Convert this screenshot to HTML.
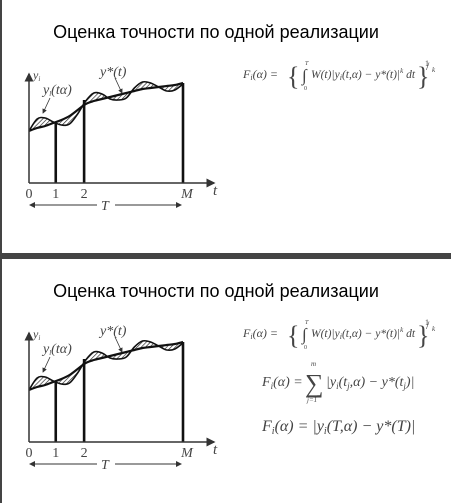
<!DOCTYPE html>
<html><head><meta charset="utf-8"><style>
html,body{margin:0;padding:0;background:#fff;width:451px;height:503px;overflow:hidden}
svg{display:block}
.ttl{font-family:"Liberation Sans",sans-serif;font-size:18px;fill:#000}
.m{font-family:"Liberation Serif",serif;font-style:italic;fill:#444}
.n{font-family:"Liberation Serif",serif;fill:#444}
</style></head><body>
<svg id="root" width="451" height="503" viewBox="0 0 451 503">
<defs>
<pattern id="hatch" patternUnits="userSpaceOnUse" width="3" height="3" patternTransform="rotate(45)">
<rect width="3" height="3" fill="#fff"/><line x1="0" y1="0" x2="0" y2="3" stroke="#222" stroke-width="1.3"/>
</pattern>
<marker id="ah" markerWidth="6" markerHeight="6" refX="5" refY="3" orient="auto"><path d="M0,0 L6,3 L0,6 Z" fill="#333"/></marker>
<g id="f1">
<text class="m" x="243" y="78" font-size="12">F<tspan font-size="8" dy="2">i</tspan><tspan dy="-2">(α) =</tspan></text>
<text class="n" x="287" y="85" font-size="26">{</text>
<text class="n" x="302" y="81" font-size="17">∫</text>
<text class="m" x="305" y="65" font-size="6">T</text><text class="n" x="304" y="90" font-size="6">0</text>
<text class="m" x="311" y="78" font-size="11.5">W(t)|y<tspan font-size="8" dy="2">i</tspan><tspan dy="-2">(t,α) − y*(t)|</tspan><tspan font-size="7" dy="-5">k</tspan><tspan dy="5"> dt</tspan></text>
<text class="n" x="417" y="85" font-size="26">}</text>
<text class="n" x="425" y="66" font-size="8">1</text><text class="n" x="426" y="70" font-size="12">/</text><text class="m" x="432" y="72" font-size="7">k</text>
</g>
</defs>
<rect x="0" y="0" width="2" height="503" fill="#444"/>
<rect x="0" y="253" width="451" height="6" fill="#444"/>

<g>
<text class="ttl" x="216" y="38" text-anchor="middle">Оценка точности по одной реализации</text>
<g id="chart1"></g>
<use href="#f1"/>
</g>

<g>
<text class="ttl" x="216" y="297" text-anchor="middle">Оценка точности по одной реализации</text>
<g id="chart2"></g>
<use href="#f1" y="259"/>
<g>
<text class="m" x="262" y="386" font-size="14">F<tspan font-size="9" dy="3">i</tspan><tspan dy="-3">(α) =</tspan></text>
<text class="n" x="305" y="392" font-size="26">∑</text>
<text class="m" x="311" y="366" font-size="7">m</text><text class="m" x="307" y="402" font-size="7">j=1</text>
<text class="m" x="326" y="386" font-size="14">|y<tspan font-size="9" dy="3">i</tspan><tspan dy="-3">(t</tspan><tspan font-size="9" dy="3">j</tspan><tspan dy="-3">,α) − y*(t</tspan><tspan font-size="9" dy="3">j</tspan><tspan dy="-3">)|</tspan></text>
</g>
<g>
<text class="m" x="262" y="431" font-size="16">F<tspan font-size="10" dy="3">i</tspan><tspan dy="-3">(α) = |y</tspan><tspan font-size="10" dy="3">i</tspan><tspan dy="-3">(T,α) − y*(T)|</tspan></text>
</g>
</g>
</svg>
<script>
const tIndex=[0,1,2,3,4,5,6,7,8,9,10,11,12,13,14,15,16,17,18,19];
const yStar=[52,55,57,60,63,67,73,79,82,84,86,88,90,92,94,95,96,97,98,100];
const yReal=[52,64,65,61,58,59,69,82,90,89,84,83,85,95,101,100,96,92,93,99];
const barT=[3.3,6.8,19];
const barV=[61,83,100];
const tickLabels=["0","1","2","M"];
const tickT=[0,3.3,6.8,19];
const NS="http://www.w3.org/2000/svg";
function mk(tag,attrs,parent){const e=document.createElementNS(NS,tag);for(const k in attrs)e.setAttribute(k,attrs[k]);parent.appendChild(e);return e;}
function smooth(pts){let d="M"+pts[0][0]+","+pts[0][1];for(let i=0;i<pts.length-1;i++){const p0=pts[Math.max(0,i-1)],p1=pts[i],p2=pts[i+1],p3=pts[Math.min(pts.length-1,i+2)];d+=" C"+(p1[0]+(p2[0]-p0[0])/6)+","+(p1[1]+(p2[1]-p0[1])/6)+" "+(p2[0]-(p3[0]-p1[0])/6)+","+(p2[1]-(p3[1]-p1[1])/6)+" "+p2[0]+","+p2[1];}return d;}
function draw(g,oy){
  const x=t=>29+t*154/19, y=v=>oy+183-v;
  const ps=tIndex.map((t,i)=>[x(t),y(yStar[i])]);
  const pr=tIndex.map((t,i)=>[x(t),y(yReal[i])]);
  const rev=ps.slice().reverse();
  const area=mk("path",{d:smooth(pr)+" L"+rev.map(p=>p[0]+","+p[1]).join(" L")+" Z",fill:"url(#hatch)",stroke:"none"},g);
  
  
  const ls=mk("path",{d:smooth(ps),fill:"none",stroke:"#111","stroke-width":2.2},g);
  
  
  const lr=mk("path",{d:smooth(pr),fill:"none",stroke:"#111","stroke-width":1.6},g);
  
  
  barT.forEach((t,i)=>{const b=mk("line",{x1:x(t),x2:x(t),y1:y(0),y2:y(barV[i]),stroke:"#111","stroke-width":2.6},g);
    
    });
  const ya=mk("line",{x1:29,y1:y(0),x2:29,y2:oy+74,stroke:"#333","stroke-width":1.5,"marker-end":"url(#ah)"},g);
  
  
  const xa=mk("line",{x1:29,y1:y(0),x2:214,y2:y(0),stroke:"#333","stroke-width":1.5,"marker-end":"url(#ah)"},g);
  
  
  tickT.forEach((t,i)=>{const tx=mk("text",{x:x(t)+(i==3?4:0),y:oy+198,"text-anchor":"middle","class":i==3?"m":"n","font-size":14},g);tx.textContent=tickLabels[i];
    
    });
  const lab=(s,xx,yy,fs,nm)=>{const e=mk("text",{x:xx,y:yy,"class":"m","font-size":fs},g);e.innerHTML=s;
    
    };
  lab("t",213,oy+195,15,"x-axis-title");
  lab('y<tspan font-size="7" dy="2">i</tspan>',33,oy+79,12,"y-axis-title");
  lab('y<tspan font-size="7" dy="2">l</tspan><tspan dy="-2">(tα)</tspan>',43,oy+94,14,"real-curve-label");
  lab("y*(t)",100,oy+76,14,"star-curve-label");
  mk("line",{x1:50,y1:oy+98,x2:43,y2:oy+113,stroke:"#333","stroke-width":0.8,"marker-end":"url(#ah)"},g);
  mk("line",{x1:115,y1:oy+78,x2:122,y2:oy+93,stroke:"#333","stroke-width":0.8,"marker-end":"url(#ah)"},g);
  mk("line",{x1:97,y1:oy+205,x2:30,y2:oy+205,stroke:"#333","stroke-width":1,"marker-end":"url(#ah)"},g);
  mk("line",{x1:115,y1:oy+205,x2:181,y2:oy+205,stroke:"#333","stroke-width":1,"marker-end":"url(#ah)"},g);
  lab("T",101,oy+210,14,"period-label");
}
draw(document.getElementById("chart1"),0);
draw(document.getElementById("chart2"),259);
</script>
</body></html>
